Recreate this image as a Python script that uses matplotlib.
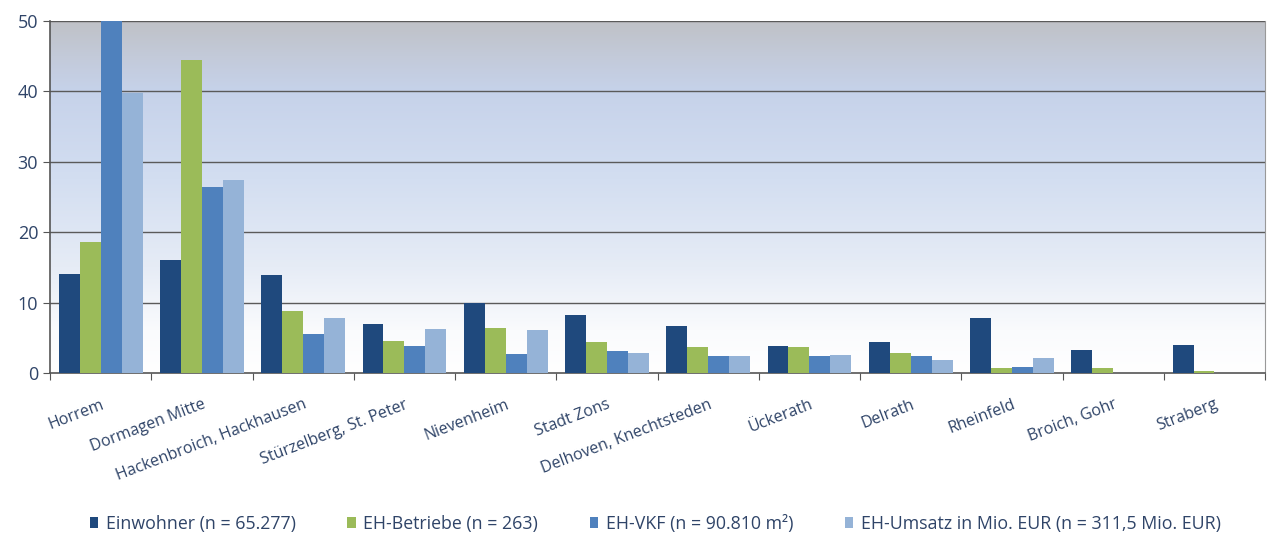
import numpy as np
import matplotlib
matplotlib.use("Agg")
import matplotlib.pyplot as plt
from matplotlib.colors import LinearSegmentedColormap

categories = ["Horrem", "Dormagen Mitte", "Hackenbroich, Hackhausen", "Stürzelberg, St. Peter",
              "Nievenheim", "Stadt Zons", "Delhoven, Knechtsteden", "Ückerath", "Delrath",
              "Rheinfeld", "Broich, Gohr", "Straberg"]
einwohner = [14.1, 16.0, 13.9, 7.0, 10.0, 8.3, 6.7, 3.8, 4.4, 7.8, 3.3, 4.0]
betriebe  = [18.6, 44.5, 8.8, 4.5, 6.4, 4.4, 3.7, 3.7, 2.9, 0.7, 0.7, 0.35]
vkf       = [50.0, 26.4, 5.5, 3.9, 2.7, 3.1, 2.4, 2.4, 2.4, 0.9, 0.0, 0.0]
umsatz    = [39.8, 27.4, 7.8, 6.3, 6.1, 2.9, 2.4, 2.5, 1.9, 2.1, 0.0, 0.0]
series_labels = ["Einwohner (n = 65.277)", "EH-Betriebe (n = 263)",
                 "EH-VKF (n = 90.810 m²)", "EH-Umsatz in Mio. EUR (n = 311,5 Mio. EUR)"]
yticks = [0, 10, 20, 30, 40, 50]

colors = ["#1f497d", "#9bbb59", "#4f81bd", "#95b3d7"]
textcol = "#2f4468"

fig = plt.figure(figsize=(12.67, 5.38), dpi=100)
ax = fig.add_axes([0.0395, 0.3067, 0.9590, 0.6543])

# gradient background
cmap = LinearSegmentedColormap.from_list("bg", [
    (0.0, "#ffffff"), (0.12, "#fafbfd"), (0.3, "#e6ecf6"), (0.55, "#d3def1"),
    (0.8, "#c6d2ea"), (0.9, "#c3cad9"), (1.0, "#bfc1c6")])
grad = np.linspace(0, 1, 256).reshape(-1, 1)
ax.imshow(grad, aspect="auto", cmap=cmap, origin="lower",
          extent=[-0.5, len(categories) - 0.5, 0, 50], zorder=0)

x = np.arange(len(categories))
w = 0.207
data = [einwohner, betriebe, vkf, umsatz]
for i, (vals, c, lab) in enumerate(zip(data, colors, series_labels)):
    ax.bar(x + (i - 1.5) * w, vals, width=w, color=c, label=lab, zorder=3)

ax.set_xlim(-0.5, len(categories) - 0.5)
ax.set_ylim(0, 50)
ax.set_yticks(yticks)
for yv in yticks[1:]:
    ax.axhline(yv, color="#5a5a5a", linewidth=1.0, zorder=2)

ax.set_xticks(np.arange(-0.5, len(categories) + 0.5, 1), minor=False)
ax.set_xticklabels([])
ax.set_xticks(x, minor=True)
ax.set_xticklabels(categories, minor=True, rotation=21, ha="right",
                   rotation_mode="anchor", fontsize=11.5, color=textcol,
                   family="Open Sans")
ax.tick_params(axis="x", which="minor", length=0, pad=17)
ax.tick_params(axis="x", which="major", length=5, direction="out", color="#555555")
ax.tick_params(axis="y", length=5, direction="out", color="#555555",
               labelsize=13, labelcolor=textcol)
for lbl in ax.get_yticklabels():
    lbl.set_family("Open Sans")

for s in ["left", "bottom"]:
    ax.spines[s].set_color("#555555")
    ax.spines[s].set_linewidth(1.2)
ax.spines["top"].set_visible(False)
ax.spines["right"].set_color("#999999")

leg = fig.legend(loc="lower center", bbox_to_anchor=(0.517, -0.02), ncol=4,
                 frameon=False, handlelength=0.5, handleheight=0.5,
                 handletextpad=0.4, columnspacing=2.9,
                 prop={"family": "Open Sans", "size": 12.8})
for t in leg.get_texts():
    t.set_color(textcol)

fig.savefig("out.png", dpi=100)
